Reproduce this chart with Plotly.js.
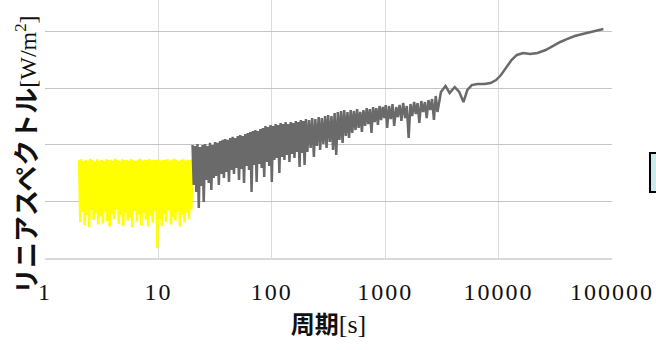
<!DOCTYPE html>
<html>
<head>
<meta charset="utf-8">
<script src="https://cdn.plot.ly/plotly-3.0.1.min.js"></script>
<style>
html,body{margin:0;padding:0;background:#fff;}
#chart{width:656px;height:350px;}
.xtick text{letter-spacing:2px; font-family:'Liberation Serif', serif !important;}
</style>
</head>
<body>
<div id="chart"></div>
<script>
// ---- data ----
const yellowPeriod = [2.00,2.05,2.09,2.14,2.19,2.24,2.29,2.34,2.40,2.45,
 2.51,2.57,2.63,2.69,2.75,2.82,2.88,2.95,3.02,3.09,
 3.16,3.24,3.31,3.39,3.47,3.55,3.63,3.72,3.80,3.89,
 3.98,4.07,4.17,4.27,4.37,4.47,4.57,4.68,4.79,4.90,
 5.01,5.13,5.25,5.37,5.50,5.62,5.75,5.89,6.03,6.17,
 6.31,6.46,6.61,6.76,6.92,7.08,7.24,7.41,7.59,7.76,
 7.94,8.13,8.32,8.51,8.71,8.91,9.12,9.33,9.55,9.77,
 10.0,10.2,10.5,10.7,11.0,11.2,11.5,11.7,12.0,12.3,
 12.6,12.9,13.2,13.5,13.8,14.1,14.5,14.8,15.1,15.5,
 15.8,16.2,16.6,17.0,17.4,17.8,18.2,18.6,19.1,19.5,
 20.0];
const yellowSpectrum = [5.4e-3,4.3e-4,5.6e-3,6.5e-4,5.2e-3,3.8e-4,5.5e-3,5.8e-4,5.3e-3,3.5e-4,
 5.7e-3,7.1e-4,5.4e-3,4.7e-4,5.1e-3,6.2e-4,5.6e-3,3.9e-4,5.3e-3,5.5e-4,
 5.5e-3,4.1e-4,5.2e-3,6.6e-4,5.6e-3,4.5e-4,5.4e-3,3.6e-4,5.5e-3,6.0e-4,
 5.3e-3,4.9e-4,5.7e-3,7.3e-4,5.4e-3,4.0e-4,5.2e-3,5.7e-4,5.6e-3,3.7e-4,
 5.4e-3,6.4e-4,5.5e-3,4.6e-4,5.3e-3,5.2e-4,5.6e-3,3.5e-4,5.4e-3,6.8e-4,
 5.2e-3,4.4e-4,5.5e-3,5.9e-4,5.7e-3,3.8e-4,5.3e-3,6.3e-4,5.5e-3,4.8e-4,
 5.4e-3,3.6e-4,5.6e-3,5.6e-4,5.3e-3,4.2e-4,5.5e-3,6.9e-4,5.4e-3,1.5e-4,
 5.6e-3,5.0e-4,5.3e-3,3.7e-4,5.5e-3,6.1e-4,5.4e-3,4.4e-4,5.6e-3,7.0e-4,
 5.3e-3,3.9e-4,5.5e-3,5.4e-4,5.7e-3,4.6e-4,5.4e-3,6.6e-4,5.2e-3,3.6e-4,
 5.5e-3,5.8e-4,5.6e-3,4.3e-4,5.3e-3,6.3e-4,5.5e-3,4.9e-4,5.4e-3,7.2e-4,
 5.6e-3];

const grayPeriod = [20.0,20.5,21.0,21.6,22.1,22.7,23.3,23.9,24.5,25.1,
 25.8,26.4,27.1,27.8,28.5,29.3,30.0,30.8,31.6,32.4,
 33.3,34.1,35.0,35.9,36.9,37.8,38.8,39.8,40.8,41.9,
 43.0,44.1,45.2,46.4,47.6,48.8,50.1,51.4,52.7,54.1,
 55.5,56.9,58.4,59.9,61.4,63.0,64.7,66.3,68.1,69.8,
 71.6,73.5,75.4,77.3,79.3,81.4,83.5,85.7,87.9,90.2,
 92.5,94.9,97.4,100,102.6,105.2,108,110.8,113.6,116.6,
 119.6,122.7,125.9,129.2,132.5,136,139.5,143.1,146.8,150.6,
 154.5,158.5,162.7,166.9,171.2,175.7,180.2,184.9,189.7,194.6,
 200,
 206,213,220,227,235,242,250,259,267,276,
 285,295,304,314,325,336,347,358,370,382,
 395,408,421,435,450,465,480,496,512,529,
 547,565,583,603,623,643,665,687,709,733,
 757,782,808,835,862,891,920,951,982,1010,
 1040,1080,1120,1160,1200,1250,1290,1340,1390,1440,
 1500,1550,1610,1670,1730,1800,1860,1930,2000,2080,
 2160,2240,2320,2410,2500,2590,2690,2790,2890,
 3100,3400,3700,4100,4500,4900,5300,5800,6500,7500,
 8500,9500,10500,11700,13000,14500,16500,19000,22000,26000,
 30000,35000,40000,47000,55000,65000,75000,84000];
const graySpectrum = [1.00e-2,1.96e-3,9.6e-3,1.47e-3,1.04e-2,7.7e-4,9.2e-3,1.88e-3,1.00e-2,9.8e-4,
 1.04e-2,2.40e-3,9.6e-3,2.12e-3,1.09e-2,1.60e-3,1.00e-2,2.60e-3,1.13e-2,2.83e-3,
 1.09e-2,1.96e-3,1.18e-2,3.07e-3,1.23e-2,2.60e-3,1.28e-2,3.33e-3,1.23e-2,2.21e-3,
 1.33e-2,3.61e-3,1.39e-2,3.07e-3,1.33e-2,3.92e-3,1.44e-2,2.40e-3,1.50e-2,3.76e-3,
 1.44e-2,2.12e-3,1.57e-2,4.25e-3,1.63e-2,3.61e-3,1.70e-2,1.47e-3,1.77e-2,4.42e-3,
 1.84e-2,2.21e-3,1.77e-2,4.61e-3,1.92e-2,3.92e-3,2.00e-2,2.71e-3,2.17e-2,5.00e-3,
 2.08e-2,4.25e-3,2.26e-2,2.21e-3,2.17e-2,5.42e-3,2.35e-2,5.88e-3,2.26e-2,3.19e-3,
 2.45e-2,6.13e-3,2.35e-2,5.42e-3,2.55e-2,6.65e-3,2.35e-2,5.00e-3,2.55e-2,6.92e-3,
 2.45e-2,5.88e-3,2.66e-2,7.50e-3,2.55e-2,4.08e-3,2.77e-2,7.20e-3,2.66e-2,4.42e-3,
 2.88e-2,
 7.5e-3,2.77e-2,8.84e-3,3.0e-2,6.13e-3,2.88e-2,9.6e-3,3.13e-2,8.15e-3,3.0e-2,
 1.04e-2,3.26e-2,8.84e-3,3.39e-2,1.13e-2,3.26e-2,8.15e-3,3.68e-2,6.65e-3,3.84e-2,
 1.23e-2,4.0e-2,1.09e-2,4.16e-2,1.44e-2,3.84e-2,1.33e-2,4.16e-2,1.63e-2,4.0e-2,
 1.84e-2,4.33e-2,2.0e-2,3.84e-2,1.70e-2,4.16e-2,2.17e-2,4.51e-2,2.35e-2,4.33e-2,
 1.63e-2,4.7e-2,2.55e-2,4.51e-2,2.26e-2,4.9e-2,2.77e-2,4.7e-2,3.0e-2,5.1e-2,
 2.0e-2,4.9e-2,2.88e-2,5.31e-2,2.17e-2,4.7e-2,3.13e-2,5.1e-2,2.66e-2,5.53e-2,
 3.0e-2,4.9e-2,1.33e-2,5.31e-2,3.26e-2,5.76e-2,3.54e-2,5.53e-2,2.45e-2,6.0e-2,
 3.84e-2,5.76e-2,3.0e-2,6.25e-2,4.16e-2,6.51e-2,2.77e-2,7.36e-2,3.84e-2,
 8.66e-2,0.111,8.32e-2,0.106,8.66e-2,5.76e-2,9.4e-2,0.115,0.120,0.120,
 0.125,0.141,0.173,0.240,0.319,0.392,0.425,0.408,0.425,0.48,
 0.565,0.665,0.75,0.85,0.92,1.0,1.085,1.13];

const xTickVals = [1,10,100,1000,10000,100000];
const xTickText = ['1','10','100','1000','10000','100000'];
const xTitle = '周期<span style="font-family:Liberation Serif;font-weight:normal;font-size:26px">[s]</span>';
const yTitle = 'リニアスペクトル<span style="font-family:Liberation Serif;font-weight:normal;font-size:24px">[W/m<sup>2</sup>]</span>';

const traces = [
  {x: yellowPeriod, y: yellowSpectrum, type:'scatter', mode:'lines',
   line:{color:'#ffff00', width:2.6}, hoverinfo:'skip', showlegend:false},
  {x: grayPeriod, y: graySpectrum, type:'scatter', mode:'lines',
   line:{color:'#6a6a6a', width:2.5}, hoverinfo:'skip', showlegend:false}
];

const layout = {
  width:656, height:350,
  margin:{l:45, r:44, t:0, b:92},
  paper_bgcolor:'#ffffff', plot_bgcolor:'#ffffff',
  showlegend:false,
  xaxis:{
    type:'log', range:[0,5],
    tickvals:xTickVals, ticktext:xTickText,
    ticks:'', ticklabelstandoff:11,
    tickfont:{family:'Liberation Serif', size:24, color:'#111'},
    showgrid:true, gridcolor:'#dcdcdc', gridwidth:1,
    showline:true, linecolor:'#d9d9d9', linewidth:2,
    zeroline:false,
    title:{text:xTitle, font:{family:'Noto Sans CJK JP', size:24, color:'#111', weight:'bold'}, standoff:4}
  },
  yaxis:{
    type:'log', range:[-4, 0.566], dtick:1,
    showticklabels:false, ticks:'',
    showgrid:true, gridcolor:'#c4c4c4', gridwidth:1,
    showline:false, zeroline:false
  },
  annotations:[{
    text:yTitle, textangle:-90,
    xref:'paper', yref:'paper', x:-0.035, y:0.40,
    xanchor:'center', yanchor:'middle', showarrow:false,
    font:{family:'Noto Sans CJK JP', size:26, color:'#111', weight:'bold'}
  }],
  shapes:[{
    type:'rect', xref:'paper', yref:'paper',
    x0:1.067, x1:1.13, y0:0.256, y1:0.407,
    fillcolor:'#cbe8eb', line:{color:'#000000', width:2}, layer:'above'
  }]
};

Plotly.newPlot('chart', traces, layout, {staticPlot:true, displayModeBar:false});
</script>
</body>
</html>
